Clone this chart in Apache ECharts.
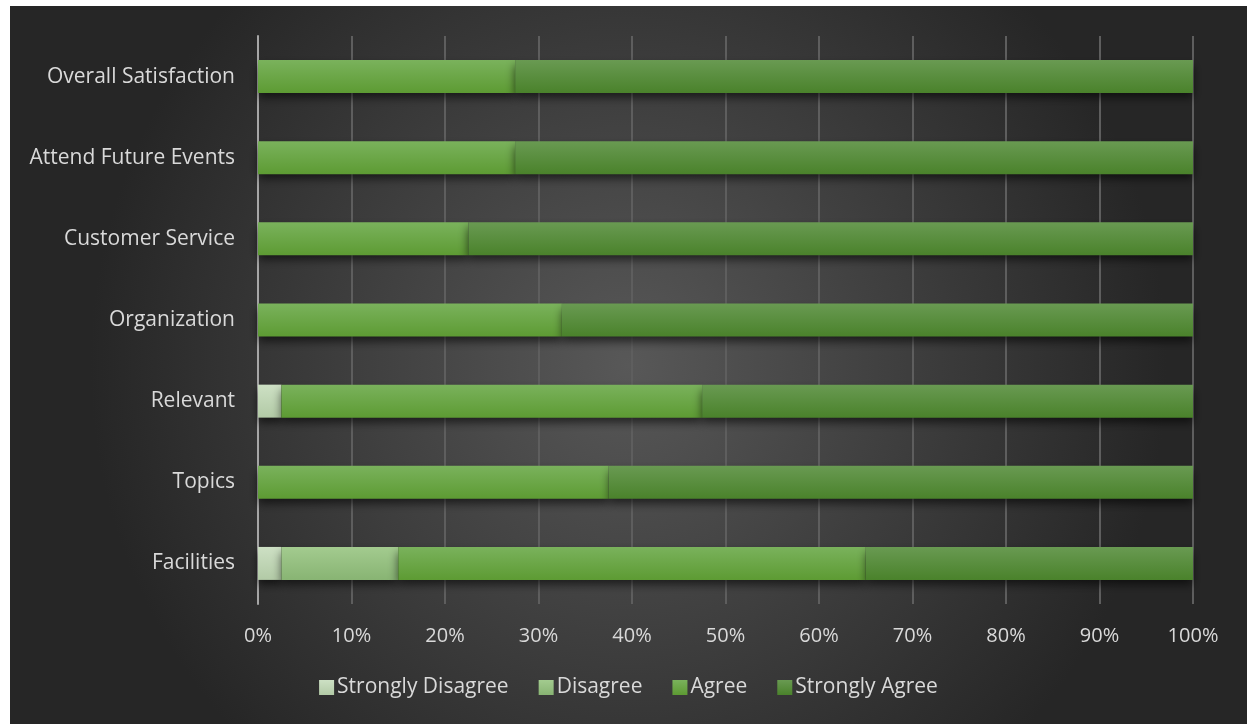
<!DOCTYPE html>
<html>
<head>
<meta charset="utf-8">
<script src="https://cdn.jsdelivr.net/npm/echarts@6/dist/echarts.min.js"></script>
<style>
  html, body { margin: 0; padding: 0; background: #ffffff; }
  #chart { position: absolute; left: 10px; top: 6px; width: 1237px; height: 718px; }
</style>
</head>
<body>
<div id="chart"></div>
<script>
// categories, bottom to top
const categories = ["Facilities", "Topics", "Relevant", "Organization", "Customer Service", "Attend Future Events", "Overall Satisfaction"];
const stronglyDisagree = [2.5, 0, 2.5, 0, 0, 0, 0];
const disagree = [12.5, 0, 0, 0, 0, 0, 0];
const agree = [50, 37.5, 45, 32.5, 22.5, 27.5, 27.5];
const stronglyAgree = [35, 62.5, 52.5, 67.5, 77.5, 72.5, 72.5];

const chart = echarts.init(document.getElementById("chart"));

const grad = (top, bottom) => new echarts.graphic.LinearGradient(0, 0, 0, 1, [
  { offset: 0, color: top },
  { offset: 1, color: bottom },
]);

const font = "'Open Sans', 'Liberation Sans', sans-serif";

const makeSeries = (name, data, top, bottom) => ({
  name: name,
  type: "bar",
  stack: "total",
  data: data,
  barWidth: 33,
  itemStyle: {
    color: grad(top, bottom),
    shadowBlur: 9,
    shadowOffsetY: 5,
    shadowColor: "rgba(0,0,0,0.6)",
  },
  emphasis: { disabled: true },
});

const option = {
  backgroundColor: new echarts.graphic.RadialGradient(0.5, 0.5, 0.75, [
    { offset: 0, color: "#585858" },
    { offset: 1, color: "#262626" },
  ]),
  animation: false,
  grid: {
    left: 248,
    right: 54,
    top: 30,
    bottom: 120,
  },
  legend: {
    bottom: 21,
    left: "center",
    itemWidth: 15,
    itemHeight: 15,
    itemGap: 30,
    icon: "rect",
    textStyle: { color: "#d9d9d9", fontSize: 21, fontFamily: font, padding: [0, 0, 0, -2] },
    data: ["Strongly Disagree", "Disagree", "Agree", "Strongly Agree"],
  },
  xAxis: {
    type: "value",
    min: 0,
    max: 100,
    interval: 10,
    axisLabel: {
      formatter: "{value}%",
      color: "#d9d9d9",
      fontSize: 20,
      fontFamily: font,
      margin: 22,
    },
    axisLine: { show: false },
    axisTick: { show: false },
    splitLine: { lineStyle: { color: "#5e5e5e", width: 2 } },
  },
  yAxis: {
    type: "category",
    data: categories,
    axisLabel: {
      color: "#d9d9d9",
      fontSize: 21,
      fontFamily: font,
      margin: 23,
    },
    axisLine: { lineStyle: { color: "#a6a6a6", width: 2 } },
    axisTick: { show: false },
  },
  series: [
    makeSeries("Strongly Disagree", stronglyDisagree, "#cde0c4", "#b2caa6"),
    makeSeries("Disagree", disagree, "#a3cb8f", "#88b473"),
    makeSeries("Agree", agree, "#7ab25c", "#5d9b33"),
    makeSeries("Strongly Agree", stronglyAgree, "#699a52", "#4a822b"),
  ],
};

chart.setOption(option);
</script>
</body>
</html>
